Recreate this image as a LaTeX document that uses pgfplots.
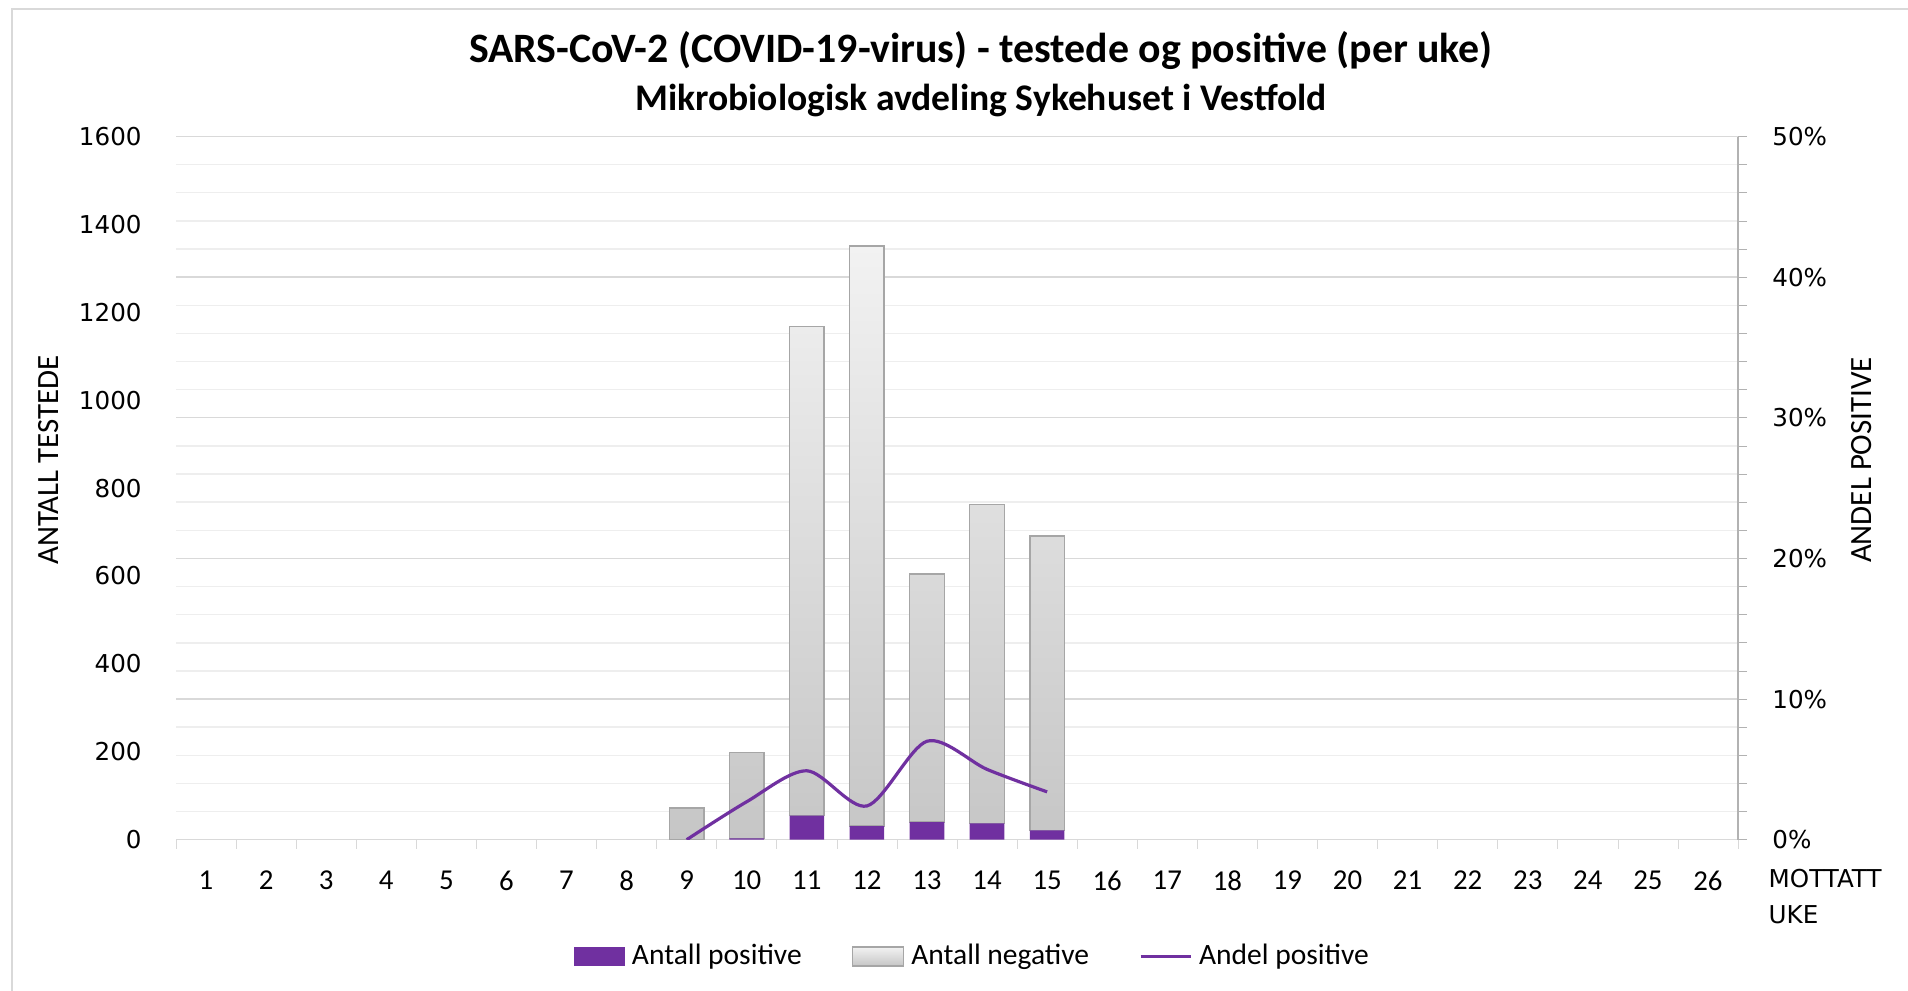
\documentclass[border=0pt]{standalone}
\usepackage{pgfplots}
\usepackage{pgfplotstable}
\pgfplotsset{compat=1.18}
\usepackage{fontspec}
\setmainfont{Carlito}
\newfontfamily\tickfont{DejaVu Sans}
\definecolor{vpurple}{HTML}{7030A0}
\definecolor{gridmaj}{HTML}{D9D9D9}
\definecolor{gridmin}{HTML}{EEEEEE}
\definecolor{barborder}{HTML}{A6A6A6}
\definecolor{bartop}{HTML}{F2F2F2}
\definecolor{barbot}{HTML}{C6C6C6}

\pgfplotstableread{
week pos neg pct
9 0 72 0
10 3 196 2.7
11 55 1113 4.9
12 31 1320 2.4
13 40 565 7.0
14 37 726 5.0
15 21 670 3.4
}\data

\pgfplotsset{
  common/.style={
    width=156.2mm, height=70.32mm, scale only axis,
    xmin=0.5, xmax=26.5,
    /pgf/number format/assume math mode=true,
    /pgf/number format/1000 sep={},
  },
}

\begin{document}
\begin{tikzpicture}
\path[use as bounding box] (-17.6mm,-15.03mm) rectangle (173.2mm,83.97mm);
% chart frame (top and left edges visible)
\draw[gridmaj, line width=0.2mm] (-16.35mm,-15.1mm) -- (-16.35mm,83.02mm) -- (174mm,83.02mm);

% axis A: grid, x axis, right axis
\begin{axis}[common,
  ymin=0, ymax=50,
  axis x line*=bottom, axis y line*=right,
  x axis line style={draw=gridmaj, -},
  y axis line style={draw=black!30, -},
  xtick={1,...,26},
  minor xtick={0.5,1.5,...,26.5},
  ytick={0,10,...,50},
  minor ytick={2,4,...,48},
  tick align=outside,
  major tick length=0.9mm, minor tick length=0.9mm,
  major x tick style={draw=none},
  minor x tick style={draw=gridmaj},
  major y tick style={draw=black!30},
  minor y tick style={draw=black!30},
  ymajorgrids, yminorgrids,
  major grid style={draw=gridmaj},
  minor grid style={draw=gridmin},
  xticklabel style={font=\fontsize{8.2}{9}\selectfont, yshift=-0.95mm},
  yticklabel={\pgfmathprintnumber{\tick}\%},
  yticklabel style={font=\tickfont\fontsize{7}{8}\selectfont, xshift=1.3mm},
]
\end{axis}

% axis B: bars, left axis
\begin{axis}[common,
  ymin=0, ymax=1600,
  ybar stacked, bar width=3.46mm,
  axis x line=none, axis y line*=left,
  y axis line style={draw=none},
  ytick={0,200,...,1600},
  major tick length=0,
  yticklabel style={font=\tickfont\fontsize{7}{8}\selectfont, xshift=-2.2mm},
  legend columns=3,
  legend style={at={(axis description cs:0.5115,-0.166)}, anchor=center, draw=none,
    fill=none, font=\fontsize{8.4}{10}\selectfont,
    /tikz/every even column/.append style={column sep=4.3mm},
    inner xsep=0pt},
]
\addplot[fill=vpurple, draw=none,
  legend image code/.code={\fill[vpurple] (0mm,-0.95mm) rectangle (5.1mm,0.95mm);}]
  table[x=week, y=pos]{\data};
\addlegendentry{Antall positive}
\addplot[draw=barborder, top color=bartop, bottom color=barbot,
  legend image code/.code={\draw[draw=barborder, top color=bartop, bottom color=barbot] (0mm,-0.95mm) rectangle (5.1mm,0.95mm);}]
  table[x=week, y=neg]{\data};
\addlegendentry{Antall negative}
\addlegendimage{legend image code/.code={\draw[vpurple, line width=0.3mm] (0mm,0mm) -- (5mm,0mm);}}
\addlegendentry{Andel positive}
\end{axis}

% axis C: percentage line
\begin{axis}[common, ymin=0, ymax=50, hide axis]
\addplot[vpurple, line width=0.32mm, smooth, tension=0.5, mark=none]
  table[x=week, y=pct]{\data};
\end{axis}

% titles and labels
\node[font=\bfseries\fontsize{11.9}{14}\selectfont] at (80.5mm,78.87mm) {SARS-CoV-2 (COVID-19-virus) - testede og positive (per uke)};
\node[font=\bfseries\fontsize{10.7}{13}\selectfont] at (80.5mm,73.9mm) {Mikrobiologisk avdeling Sykehuset i Vestfold};
\node[rotate=90, font=\fontsize{8.8}{10}\selectfont] at (-12.7mm,37.97mm) {ANTALL TESTEDE};
\node[rotate=90, font=\fontsize{8.8}{10}\selectfont] at (168.6mm,37.97mm) {ANDEL POSITIVE};
\node[anchor=north west, align=left, inner sep=0pt, font=\tickfont\fontsize{7}{10.1}\selectfont] at (159.2mm,-2.9mm) {MOTTATT\\UKE};
\end{tikzpicture}
\end{document}
